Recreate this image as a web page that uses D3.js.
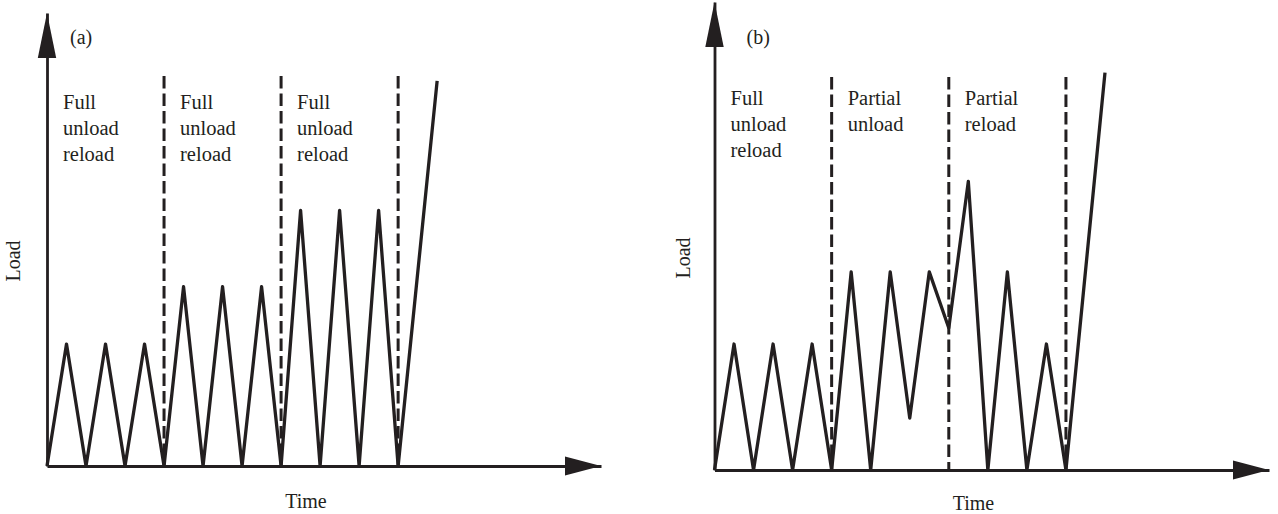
<!DOCTYPE html>
<html>
<head>
<meta charset="utf-8">
<script src="https://cdn.jsdelivr.net/npm/d3@7"></script>
<style>
  body { margin: 0; background: #fff; }
  svg { display: block; }
  text { font-family: "Liberation Serif", "Times New Roman", serif; fill: #231f20; }
</style>
</head>
<body>
<svg id="chart" width="1278" height="514"></svg>
<script>
// Panel (a): full unload / reload cycles at three rising load levels, then loading to failure
const timeA = [0, 0.5, 1, 1.5, 2, 2.5, 3, 3.5, 4, 4.5, 5, 5.5, 6, 6.5, 7, 7.5, 8, 8.5, 9, 10];
const loadA = [0, 3.23, 0, 3.23, 0, 3.23, 0, 4.75, 0, 4.75, 0, 4.75, 0, 6.77, 0, 6.77, 0, 6.77, 0, 10.2];

// Panel (b): full cycles, then partial unloading, then partial reloading, then loading to failure
const timeB = [0, 0.5, 1, 1.5, 2, 2.5, 3, 3.5, 4, 4.5, 5, 5.5, 6, 6.5, 7, 7.5, 8, 8.5, 9, 10];
const loadB = [0, 3.23, 0, 3.23, 0, 3.23, 0, 5.08, 0, 5.08, 1.33, 5.08, 3.64, 7.40, 0, 5.08, 0, 3.23, 0, 10.19];

// Stage boundaries (time) and stage captions
const dividerTimes = [3, 6, 9];
const dividerTopA = 10.33;
const dividerTopB = 10.08;
const stageStarts = [0, 3, 6];
const stageLabelsA = [["Full", "unload", "reload"], ["Full", "unload", "reload"], ["Full", "unload", "reload"]];
const stageLabelsB = [["Full", "unload", "reload"], ["Partial", "unload"], ["Partial", "reload"]];

// Axis extents (the arrow tips)
const timeMax = 14.2;
const loadMax = 12;

const ink = "#231f20";
const svg = d3.select("#chart");

const panels = [
  { tag: "(a)", time: timeA, load: loadA, dividerTop: dividerTopA, labels: stageLabelsA,
    x0: 47, x1: 601, yBase: 466, yTop: 13,
    tagX: 70, tagY: 44, labelY: 109, timeY: 508, loadX: 20, loadY: 261 },
  { tag: "(b)", time: timeB, load: loadB, dividerTop: dividerTopB, labels: stageLabelsB,
    x0: 714.5, x1: 1269, yBase: 470, yTop: 2,
    tagX: 746.5, tagY: 44, labelY: 105, timeY: 510, loadX: 690, loadY: 258 }
];

panels.forEach(p => {
  const x = d3.scaleLinear().domain([0, timeMax]).range([p.x0, p.x1]);
  const y = d3.scaleLinear().domain([0, loadMax]).range([p.yBase, p.yTop]);
  const g = svg.append("g");

  // stage dividers
  g.selectAll("line.divider")
    .data(dividerTimes)
    .join("line")
    .attr("class", "divider")
    .attr("x1", d => x(d)).attr("x2", d => x(d))
    .attr("y1", y(p.dividerTop)).attr("y2", y(0))
    .attr("stroke", ink)
    .attr("stroke-width", 3)
    .attr("stroke-dasharray", "12.5,5");

  // load history
  const line = d3.line().x(d => x(d[0])).y(d => y(d[1]));
  g.append("path")
    .datum(p.time.map((t, i) => [t, p.load[i]]))
    .attr("d", line)
    .attr("fill", "none")
    .attr("stroke", ink)
    .attr("stroke-width", 3.3)
    .attr("stroke-linejoin", "round");

  // axes: bare lines from the library's axis generators
  const xAxis = g.append("g")
    .attr("transform", `translate(0,${p.yBase})`)
    .call(d3.axisBottom(x).tickValues([]).tickSizeOuter(0));
  const yAxis = g.append("g")
    .attr("transform", `translate(${p.x0},0)`)
    .call(d3.axisLeft(y).tickValues([]).tickSizeOuter(0));
  [xAxis, yAxis].forEach(a => a.select(".domain").attr("stroke", ink).attr("stroke-width", 2.8));

  // arrowheads
  const xt = x(timeMax), yt = y(loadMax);
  g.append("path")
    .attr("d", `M${xt},${p.yBase} L${xt - 36},${p.yBase - 9.5} L${xt - 36},${p.yBase + 9.5} Z`)
    .attr("fill", ink);
  g.append("path")
    .attr("d", `M${p.x0},${yt} L${p.x0 - 9.2},${yt + 45} L${p.x0 + 9.2},${yt + 45} Z`)
    .attr("fill", ink);

  // panel tag
  g.append("text")
    .attr("x", p.tagX).attr("y", p.tagY)
    .attr("font-size", 20)
    .text(p.tag);

  // stage captions
  p.labels.forEach((lines, i) => {
    const t = g.append("text")
      .attr("x", x(stageStarts[i]) + 16)
      .attr("y", p.labelY)
      .attr("font-size", 20.5);
    lines.forEach((s, j) => {
      t.append("tspan")
        .attr("x", x(stageStarts[i]) + 16)
        .attr("dy", j === 0 ? 0 : 26.2)
        .text(s);
    });
  });

  // axis titles
  g.append("text")
    .attr("x", p.x0 + 259).attr("y", p.timeY)
    .attr("text-anchor", "middle")
    .attr("font-size", 20)
    .text("Time");
  g.append("text")
    .attr("transform", `translate(${p.loadX},${p.loadY}) rotate(-90)`)
    .attr("text-anchor", "middle")
    .attr("font-size", 20)
    .text("Load");
});
</script>
</body>
</html>
